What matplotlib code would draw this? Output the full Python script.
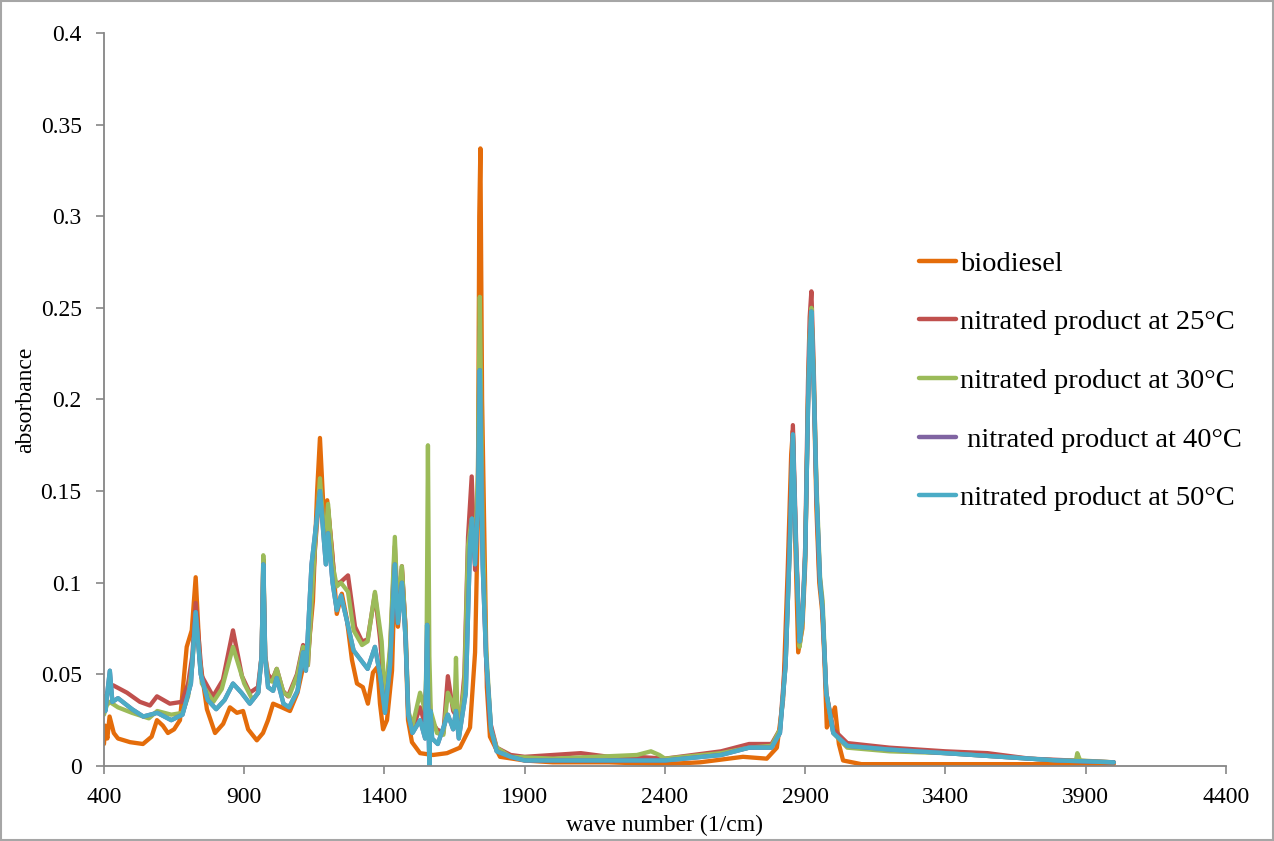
import matplotlib
matplotlib.use("Agg")
import matplotlib.pyplot as plt
from matplotlib.patches import Rectangle

# FTIR spectra (wave number in 1/cm, absorbance)
wn_bio = [400, 405, 412, 420, 435, 450, 493, 539, 570, 589, 610, 628, 650, 671, 695, 713,
          727, 742, 767, 796, 825, 849, 874, 896, 914, 945, 967, 985, 1003, 1034, 1063, 1090,
          1110, 1127, 1145, 1160, 1170, 1184, 1196, 1213, 1230, 1248, 1266, 1284, 1302, 1323,
          1341, 1359, 1375, 1384, 1395, 1409, 1427, 1437, 1448, 1462, 1473, 1484, 1498, 1527,
          1573, 1623, 1669, 1705, 1723, 1733, 1738, 1742, 1748, 1765, 1776, 1812, 1900, 2000,
          2200, 2400, 2525, 2678, 2763, 2799, 2821, 2838, 2850, 2856, 2865, 2875, 2890, 2900,
          2910, 2916, 2922, 2930, 2940, 2950, 2960, 2968, 2977, 2990, 3006, 3020, 3035, 3100,
          3300, 3500, 3700, 3900, 4000]
abs_bio = [0.012, 0.022, 0.015, 0.027, 0.018, 0.015, 0.013, 0.012, 0.016, 0.025, 0.022, 0.018,
           0.02, 0.025, 0.065, 0.074, 0.103, 0.058, 0.031, 0.018, 0.023, 0.032, 0.029, 0.030,
           0.020, 0.014, 0.018, 0.025, 0.034, 0.032, 0.03, 0.04, 0.054, 0.06, 0.09, 0.15, 0.179,
           0.136, 0.145, 0.118, 0.083, 0.094, 0.08, 0.058, 0.045, 0.043, 0.034, 0.051, 0.054,
           0.034, 0.02, 0.025, 0.052, 0.105, 0.076, 0.107, 0.08, 0.025, 0.013, 0.007, 0.006,
           0.007, 0.01, 0.021, 0.062, 0.134, 0.30, 0.337, 0.2, 0.043, 0.016, 0.005, 0.003, 0.002,
           0.002, 0.001, 0.002, 0.005, 0.004, 0.01, 0.036, 0.109, 0.17, 0.183, 0.12, 0.062,
           0.075, 0.11, 0.2, 0.235, 0.248, 0.21, 0.14, 0.1, 0.085, 0.06, 0.021, 0.025, 0.032,
           0.012, 0.003, 0.001, 0.001, 0.001, 0.001, 0.001, 0.001]

wn_25 = [400, 410, 420, 433, 482, 528, 564, 589, 635, 678, 700, 715, 727, 749, 789, 824, 860,
         892, 920, 949, 962, 968, 975, 985, 1000, 1016, 1038, 1056, 1088, 1110, 1127, 1152, 1170,
         1188, 1199, 1223, 1241, 1270, 1295, 1320, 1340, 1366, 1384, 1402, 1420, 1437, 1448,
         1462, 1475, 1485, 1500, 1527, 1540, 1555, 1565, 1587, 1610, 1626, 1645, 1670, 1685,
         1698, 1711, 1723, 1733, 1740, 1750, 1762, 1775, 1800, 1850, 1900, 2000, 2100, 2200,
         2300, 2400, 2600, 2700, 2780, 2810, 2830, 2845, 2856, 2868, 2880, 2890, 2900, 2910,
         2916, 2922, 2930, 2940, 2950, 2960, 2975, 3000, 3050, 3200, 3400, 3550, 3700, 3850,
         4000]
abs_25 = [0.035, 0.038, 0.044, 0.044, 0.04, 0.035, 0.033, 0.038, 0.034, 0.035, 0.045, 0.06,
          0.089, 0.049, 0.038, 0.047, 0.074, 0.049, 0.04, 0.043, 0.06, 0.113, 0.06, 0.05, 0.047,
          0.053, 0.041, 0.038, 0.05, 0.066, 0.055, 0.118, 0.153, 0.12, 0.14, 0.1, 0.1, 0.104,
          0.076, 0.068, 0.069, 0.094, 0.07, 0.036, 0.062, 0.12, 0.08, 0.109, 0.076, 0.029, 0.02,
          0.032, 0.025, 0.055, 0.025, 0.02, 0.018, 0.049, 0.03, 0.024, 0.05, 0.125, 0.158,
          0.107, 0.15, 0.24, 0.12, 0.06, 0.025, 0.01, 0.006, 0.005, 0.006, 0.007, 0.005, 0.005,
          0.004, 0.008, 0.012, 0.012, 0.02, 0.06, 0.13, 0.186, 0.12, 0.066, 0.08, 0.12, 0.21,
          0.245, 0.259, 0.22, 0.15, 0.105, 0.09, 0.04, 0.02, 0.0125, 0.01, 0.008, 0.007, 0.004,
          0.003, 0.002]

wn_30 = [400, 410, 420, 450, 500, 560, 590, 640, 680, 700, 715, 727, 749, 790, 820, 860, 900,
         930, 950, 962, 968, 975, 985, 1000, 1016, 1040, 1060, 1090, 1110, 1127, 1152, 1170,
         1188, 1199, 1215, 1230, 1245, 1270, 1290, 1320, 1340, 1366, 1390, 1402, 1420, 1437,
         1448, 1462, 1475, 1485, 1500, 1527, 1545, 1550, 1555, 1560, 1565, 1587, 1610, 1626,
         1640, 1650, 1655, 1660, 1670, 1685, 1698, 1711, 1723, 1733, 1740, 1750, 1762, 1780,
         1800, 1850, 2000, 2150, 2300, 2350, 2380, 2400, 2600, 2700, 2780, 2810, 2830, 2845,
         2856, 2868, 2880, 2890, 2900, 2910, 2916, 2922, 2930, 2940, 2953, 2962, 2975, 3000,
         3050, 3200, 3400, 3600, 3800, 3865, 3870, 3880, 4000]
abs_30 = [0.028, 0.033, 0.035, 0.032, 0.029, 0.026, 0.03, 0.028, 0.029, 0.038, 0.055, 0.083,
          0.045, 0.035, 0.042, 0.065, 0.045, 0.036, 0.04, 0.06, 0.115, 0.06, 0.047, 0.046, 0.053,
          0.04, 0.038, 0.05, 0.065, 0.055, 0.12, 0.157, 0.12, 0.143, 0.11, 0.098, 0.1, 0.095,
          0.074, 0.066, 0.068, 0.095, 0.068, 0.035, 0.065, 0.125, 0.083, 0.109, 0.075, 0.03,
          0.022, 0.04, 0.03, 0.06, 0.175, 0.06, 0.03, 0.018, 0.017, 0.04, 0.035, 0.03, 0.059,
          0.028, 0.025, 0.045, 0.12, 0.135, 0.115, 0.16, 0.256, 0.13, 0.065, 0.02, 0.01, 0.005,
          0.004, 0.005, 0.006, 0.008, 0.006, 0.004, 0.007, 0.01, 0.011, 0.02, 0.055, 0.12, 0.18,
          0.115, 0.065, 0.078, 0.115, 0.2, 0.235, 0.25, 0.215, 0.155, 0.103, 0.09, 0.04, 0.018,
          0.01, 0.008, 0.007, 0.005, 0.003, 0.003, 0.007, 0.003, 0.002]

wn_50 = [400, 405, 412, 421, 430, 450, 500, 540, 590, 640, 680, 710, 727, 745, 770, 800, 830,
         860, 890, 920, 950, 962, 968, 975, 985, 1003, 1016, 1040, 1060, 1090, 1110, 1120, 1140,
         1170, 1191, 1199, 1215, 1230, 1245, 1265, 1290, 1320, 1340, 1366, 1384, 1402, 1420,
         1437, 1448, 1462, 1475, 1485, 1500, 1527, 1545, 1552, 1556, 1560, 1564, 1570, 1590,
         1626, 1645, 1655, 1665, 1690, 1705, 1712, 1723, 1733, 1740, 1750, 1762, 1780, 1800,
         1850, 1900, 2100, 2400, 2600, 2700, 2780, 2810, 2830, 2845, 2856, 2868, 2880, 2890,
         2900, 2910, 2916, 2922, 2930, 2940, 2953, 2962, 2975, 3000, 3050, 3200, 3400, 3600,
         3800, 4000]
abs_50 = [0.038, 0.03, 0.04, 0.052, 0.035, 0.037, 0.031, 0.027, 0.029, 0.025, 0.028, 0.045,
          0.084, 0.05, 0.036, 0.031, 0.036, 0.045, 0.04, 0.034, 0.04, 0.06, 0.11, 0.058, 0.043,
          0.041, 0.048, 0.034, 0.032, 0.041, 0.062, 0.052, 0.11, 0.15, 0.11, 0.127, 0.1, 0.085,
          0.093, 0.08, 0.063, 0.057, 0.053, 0.065, 0.05, 0.029, 0.055, 0.11, 0.078, 0.1, 0.07,
          0.028, 0.018, 0.025, 0.015, 0.077, 0.03, 0.0, 0.03, 0.015, 0.012, 0.028, 0.02, 0.03,
          0.015, 0.04, 0.12, 0.135, 0.11, 0.14, 0.216, 0.11, 0.06, 0.02, 0.008, 0.005, 0.003,
          0.003, 0.003, 0.006, 0.01, 0.01, 0.018, 0.055, 0.12, 0.181, 0.115, 0.068, 0.08, 0.115,
          0.195, 0.23, 0.248, 0.21, 0.15, 0.1, 0.085, 0.04, 0.018, 0.011, 0.009, 0.007, 0.005,
          0.003, 0.002]

# the 40°C trace is hidden under the 50°C one in the picture
wn_40 = wn_50
abs_40 = abs_50

labels = ["biodiesel", "nitrated product at 25°C", "nitrated product at 30°C",
          " nitrated product at 40°C", "nitrated product at 50°C"]
colors = ["#E46C0A", "#C0504D", "#9BBB59", "#8064A2", "#4BACC6"]

x_ticks = [400, 900, 1400, 1900, 2400, 2900, 3400, 3900, 4400]
y_ticks = [0, 0.05, 0.1, 0.15, 0.2, 0.25, 0.3, 0.35, 0.4]
y_tick_labels = ["0", "0.05", "0.1", "0.15", "0.2", "0.25", "0.3", "0.35", "0.4"]

plt.rcParams['font.family'] = ['Liberation Serif', 'DejaVu Serif']

fig = plt.figure(figsize=(12.74, 8.41), dpi=100)
ax = fig.add_axes([0.0816, 0.0892, 0.8807, 0.8716])

series = [(wn_bio, abs_bio), (wn_25, abs_25), (wn_30, abs_30), (wn_40, abs_40), (wn_50, abs_50)]
for (x, y), lab, c in zip(series, labels, colors):
    ax.plot(x, y, color=c, lw=3.1, label=lab, solid_joinstyle='round', solid_capstyle='round')

ax.set_xlim(400, 4400)
ax.set_ylim(0, 0.4)
ax.set_xticks(x_ticks)
ax.set_yticks(y_ticks)
ax.set_yticklabels(y_tick_labels)

for s in ['top', 'right']:
    ax.spines[s].set_visible(False)
for s in ['left', 'bottom']:
    ax.spines[s].set_color('#868686')
    ax.spines[s].set_linewidth(1.3)

ax.tick_params(axis='both', colors='#868686', labelcolor='black', labelsize=17,
               length=6, width=1.2, direction='out')
ax.tick_params(axis='x', pad=9)
ax.tick_params(axis='y', pad=10)

ax.set_xlabel("wave number (1/cm)", fontsize=17, labelpad=5)
ax.set_ylabel("absorbance", fontsize=17, labelpad=3)

leg = ax.legend(loc='upper left', bbox_to_anchor=(0.7215, 0.702), bbox_transform=fig.transFigure,
                frameon=False, fontsize=20.5, handlelength=1.3, handletextpad=0.15,
                labelspacing=1.15, borderpad=0, borderaxespad=0)
for h in leg.get_lines():
    h.set_linewidth(3.2)

fig.patches.append(Rectangle((0.001, 0.001), 0.998, 0.998, transform=fig.transFigure,
                             fill=False, edgecolor='#A6A6A6', lw=1.5))

plt.savefig('out.png', dpi=100)
